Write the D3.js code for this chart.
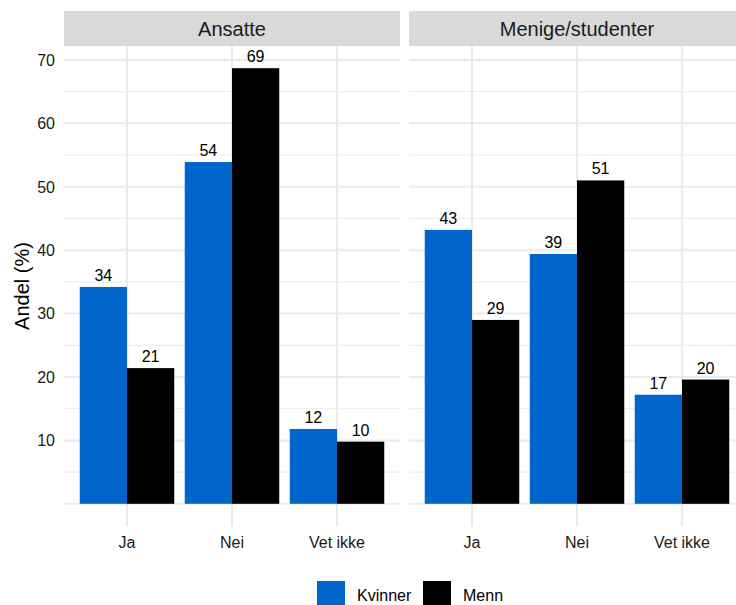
<!DOCTYPE html>
<html>
<head>
<meta charset="utf-8">
<script src="https://cdn.jsdelivr.net/npm/d3@7"></script>
<style>
  body { margin: 0; background: #fff; }
  text { font-family: "Liberation Sans", Arial, sans-serif; }
</style>
</head>
<body>
<script>
    // data
    var panels = ["Ansatte", "Menige/studenter"];
    var categories = ["Ja", "Nei", "Vet ikke"];
    var genders = ["Kvinner", "Menn"];
    var ansatteKvinner = [34.2, 53.9, 11.8];
    var ansatteMenn = [21.4, 68.7, 9.8];
    var menigeKvinner = [43.2, 39.4, 17.2];
    var menigeMenn = [29.0, 51.0, 19.6];
    var yTicks = [10, 20, 30, 40, 50, 60, 70];

    const W = 736, H = 605;
    const COLORS = {Kvinner: "#0066cc", Menn: "#000000"};
    var panelLeft = [64, 409];
    var panelWidth = 336;
    var panelTop = 46, panelBottom = 526;
    var stripTop = 11;

    var rows = [];
    [[ansatteKvinner, ansatteMenn], [menigeKvinner, menigeMenn]].forEach(function(p, pi) {
        categories.forEach(function(c, ci) {
            rows.push({panel: panels[pi], cat: c, gender: "Kvinner", value: p[0][ci]});
            rows.push({panel: panels[pi], cat: c, gender: "Menn", value: p[1][ci]});
        });
    });

    var svg = d3.select("body").append("svg")
        .attr("width", W)
        .attr("height", H);

    var y = d3.scaleLinear()
        .domain([-3.5, 72.2])
        .range([panelBottom, panelTop]);

    panels.forEach(function(name, pi) {
        var x0 = panelLeft[pi];
        var x = d3.scalePoint()
            .domain(categories)
            .range([x0, x0 + panelWidth])
            .padding(0.6);
        var step = x.step();
        var xg = d3.scaleBand()
            .domain(genders)
            .range([-0.45 * step, 0.45 * step]);

        var g = svg.append("g");

        // strip
        g.append("rect")
            .attr("x", x0)
            .attr("y", stripTop)
            .attr("width", panelWidth)
            .attr("height", panelTop - stripTop)
            .attr("fill", "#d9d9d9");
        g.append("text")
            .attr("x", x0 + panelWidth / 2)
            .attr("y", (stripTop + panelTop) / 2)
            .attr("dy", "0.36em")
            .attr("text-anchor", "middle")
            .attr("font-size", 20)
            .attr("fill", "#1a1a1a")
            .text(name);

        // minor grid
        g.selectAll(".minor")
            .data(d3.range(5, 71, 10))
            .enter().append("line")
            .attr("x1", x0).attr("x2", x0 + panelWidth)
            .attr("y1", function(d) { return y(d); })
            .attr("y2", function(d) { return y(d); })
            .attr("stroke", "#ebebeb")
            .attr("stroke-width", 1);

        // major grid
        g.selectAll(".major")
            .data([0].concat(yTicks))
            .enter().append("line")
            .attr("x1", x0).attr("x2", x0 + panelWidth)
            .attr("y1", function(d) { return y(d); })
            .attr("y2", function(d) { return y(d); })
            .attr("stroke", "#ebebeb")
            .attr("stroke-width", 2);

        g.selectAll(".vgrid")
            .data(categories)
            .enter().append("line")
            .attr("x1", function(d) { return x(d); })
            .attr("x2", function(d) { return x(d); })
            .attr("y1", panelTop).attr("y2", panelBottom)
            .attr("stroke", "#ebebeb")
            .attr("stroke-width", 2);

        var data = rows.filter(function(d) { return d.panel === name; });

        // bars
        g.selectAll(".bar")
            .data(data)
            .enter().append("rect")
            .attr("x", function(d) { return x(d.cat) + xg(d.gender); })
            .attr("y", function(d) { return y(d.value); })
            .attr("width", xg.bandwidth())
            .attr("height", function(d) { return y(0) - y(d.value); })
            .attr("fill", function(d) { return COLORS[d.gender]; });

        // value labels
        g.selectAll(".lab")
            .data(data)
            .enter().append("text")
            .attr("x", function(d) { return x(d.cat) + xg(d.gender) + xg.bandwidth() / 2; })
            .attr("y", function(d) { return y(d.value) - 6; })
            .attr("text-anchor", "middle")
            .attr("font-size", 16)
            .attr("fill", "#000")
            .text(function(d) { return Math.round(d.value); });

        // x axis labels
        g.selectAll(".xlab")
            .data(categories)
            .enter().append("text")
            .attr("x", function(d) { return x(d); })
            .attr("y", 542)
            .attr("dy", "0.36em")
            .attr("text-anchor", "middle")
            .attr("font-size", 16)
            .attr("fill", "#1a1a1a")
            .text(function(d) { return d; });
    });

    // y axis labels
    svg.append("g").selectAll("text")
        .data(yTicks)
        .enter().append("text")
        .attr("x", 55)
        .attr("y", function(d) { return y(d); })
        .attr("dy", "0.36em")
        .attr("text-anchor", "end")
        .attr("font-size", 16)
        .attr("fill", "#1a1a1a")
        .text(function(d) { return d; });

    // y axis title
    svg.append("text")
        .attr("transform", "translate(22," + ((panelTop + panelBottom) / 2) + ") rotate(-90)")
        .attr("dy", "0.36em")
        .attr("text-anchor", "middle")
        .attr("font-size", 20)
        .attr("fill", "#000")
        .text("Andel (%)");

    // legend
    var legend = svg.append("g");
    var legendX = [317, 423];
    genders.forEach(function(gname, i) {
        legend.append("rect")
            .attr("x", legendX[i])
            .attr("y", 581)
            .attr("width", 28)
            .attr("height", 28)
            .attr("fill", COLORS[gname]);
        legend.append("text")
            .attr("x", legendX[i] + 40)
            .attr("y", 595)
            .attr("dy", "0.36em")
            .attr("font-size", 16)
            .attr("fill", "#000")
            .text(gname);
    });
</script>
</body>
</html>
